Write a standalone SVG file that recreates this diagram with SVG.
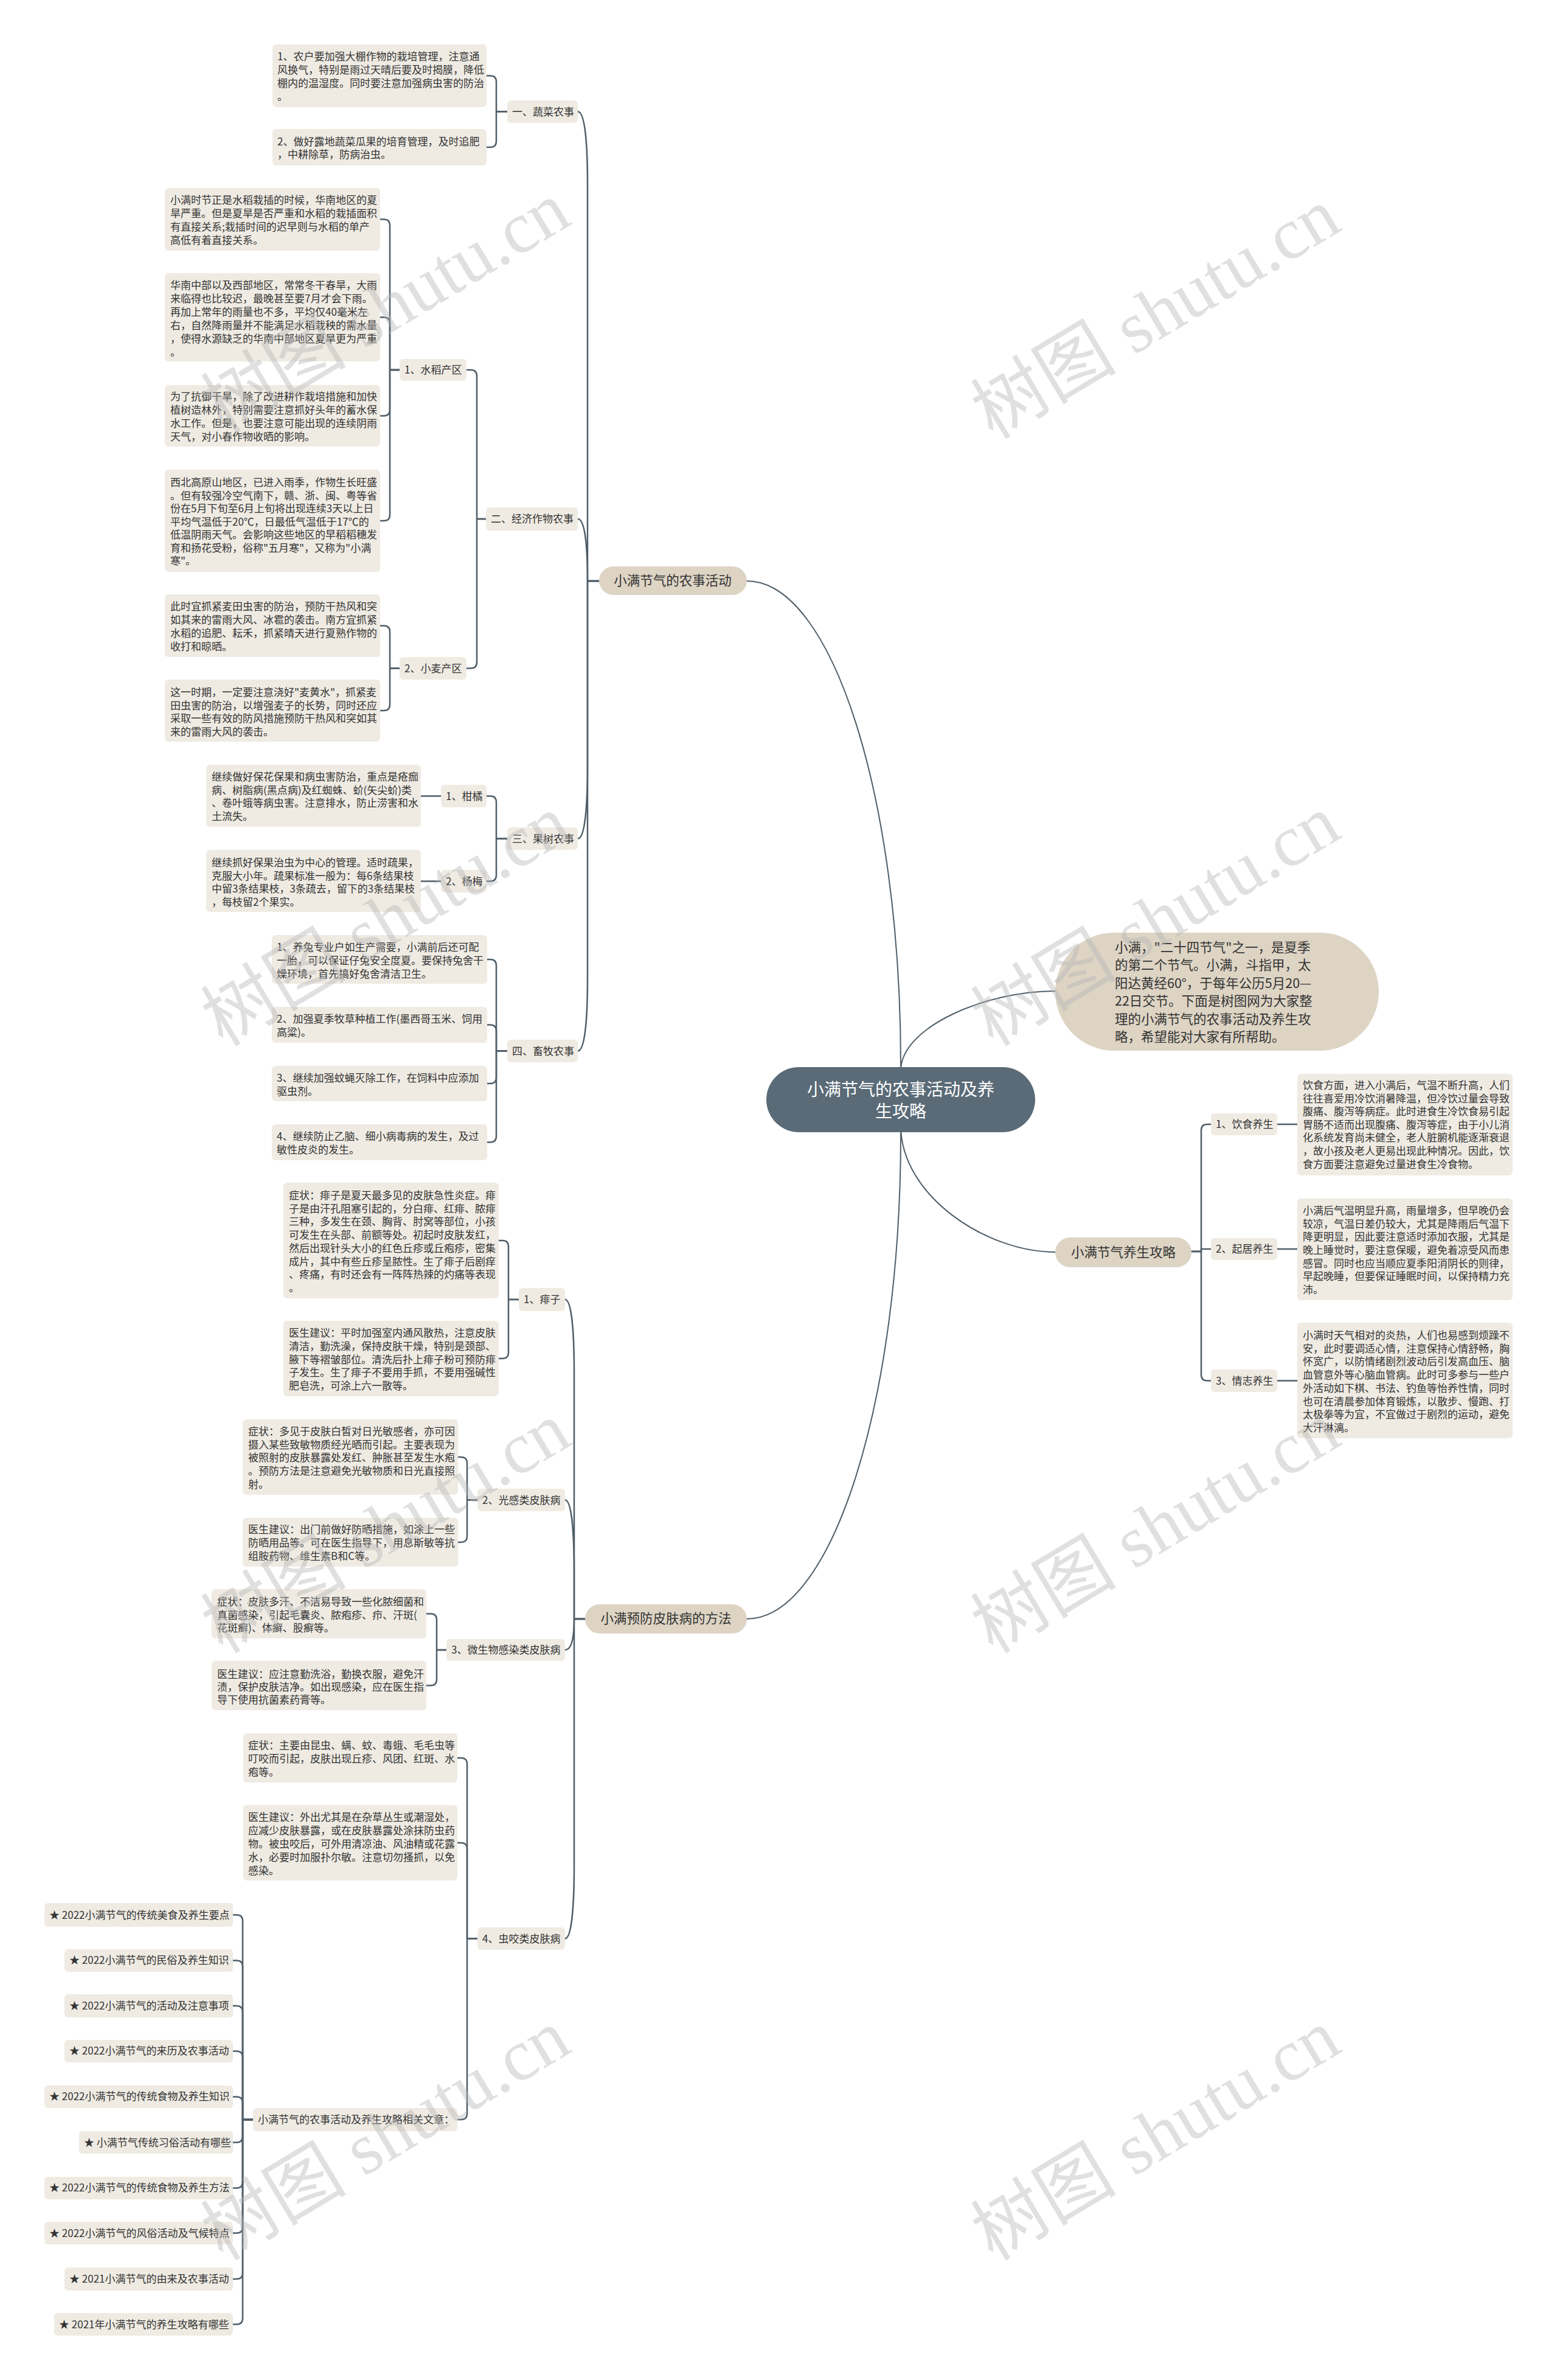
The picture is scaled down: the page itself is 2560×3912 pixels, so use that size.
<svg xmlns="http://www.w3.org/2000/svg" width="2560" height="3912" viewBox="0 0 2560 3912">
<style>
.bg{fill:#ffffff}
.lf{fill:#efebe3}
.b1{fill:#ddd4c4}
.ct{fill:#5a6b77}
.t{font-family:"Noto Sans CJK SC","Noto Sans",sans-serif;font-size:17px;fill:#333333}
.t1{font-family:"Noto Sans CJK SC","Noto Sans",sans-serif;font-size:21.5px;fill:#333333}
.tc{font-family:"Noto Sans CJK SC","Noto Sans",sans-serif;font-size:28px;fill:#ffffff;text-anchor:middle}
.c{fill:none;stroke:#4f5e69;stroke-width:2.5;stroke-linecap:round;stroke-linejoin:round}
.cm{fill:none;stroke:#4f5e69;stroke-width:2}
.wm{font-family:"Liberation Serif","Noto Sans CJK SC",serif;font-size:120px;fill:#b5b5b5;fill-opacity:0.42;text-anchor:middle}
</style>
<rect class="bg" x="0" y="0" width="2560" height="3912"/>

<g id="connectors">
  <path class="cm" d="M1481 1807 L1481 1750 C1481 1311 1368 955 1228 955"/>
  <path class="cm" d="M1481 1807 L1481 1865 C1481 2304 1368 2661 1228 2661"/>
  <path class="cm" d="M1481 1807 L1481 1760 C1481 1688 1621 1629 1735 1629"/>
  <path class="cm" d="M1481 1807 L1481 1850 C1481 1965 1621 2058 1735 2058"/>
  <path class="c" d="M985 955 H966 V303 C966 237 962 183.5 950 183.5"/>
  <path class="c" d="M985 955 H966 C966 899 962 853 950 853"/>
  <path class="c" d="M985 955 H966 V1258 C966 1324 962 1378.5 950 1378.5"/>
  <path class="c" d="M985 955 H966 V1607 C966 1673 962 1727.5 950 1727.5"/>
  <path class="c" d="M962 2661 H944 V2256 C944 2190 940 2136 929 2136"/>
  <path class="c" d="M962 2661 H944 V2585 C944 2519 940 2465.5 929 2465.5"/>
  <path class="c" d="M962 2661 H944 C944 2690 940 2712 929 2712"/>
  <path class="c" d="M962 2661 H944 V3066 C944 3132 940 3186.5 929 3186.5"/>
  <path class="c" d="M834 183.5 H816 V134.5 Q816 124.5 806 124.5 H800"/>
  <path class="c" d="M834 183.5 H816 V232 Q816 242 806 242 H800"/>
  <path class="c" d="M799 853 H784 V618 Q784 608 774 608 H767"/>
  <path class="c" d="M799 853 H784 V1088.5 Q784 1098.5 774 1098.5 H767"/>
  <path class="c" d="M657 608 H641 V370.5 Q641 360.5 631 360.5 H625"/>
  <path class="c" d="M657 608 H641 V531.5 Q641 521.5 631 521.5 H625"/>
  <path class="c" d="M657 608 H641 V673.5 Q641 683.5 631 683.5 H625"/>
  <path class="c" d="M657 608 H641 V846 Q641 856 631 856 H625"/>
  <path class="c" d="M657 1098.5 H641 V1038.5 Q641 1028.5 631 1028.5 H625"/>
  <path class="c" d="M657 1098.5 H641 V1158 Q641 1168 631 1168 H625"/>
  <path class="c" d="M834 1378.5 H816 V1318.5 Q816 1308.5 806 1308.5 H800"/>
  <path class="c" d="M834 1378.5 H816 V1438.5 Q816 1448.5 806 1448.5 H800"/>
  <path class="c" d="M725 1308.5 H692"/>
  <path class="c" d="M725 1448.5 H692"/>
  <path class="c" d="M834 1727.5 H816 V1587 Q816 1577 806 1577 H801"/>
  <path class="c" d="M834 1727.5 H816 V1694.5 Q816 1684.5 806 1684.5 H801"/>
  <path class="c" d="M834 1727.5 H816 V1771 Q816 1781 806 1781 H801"/>
  <path class="c" d="M834 1727.5 H816 V1867.5 Q816 1877.5 806 1877.5 H801"/>
  <path class="c" d="M853 2136 H836 V2049 Q836 2039 826 2039 H820"/>
  <path class="c" d="M853 2136 H836 V2223 Q836 2233 826 2233 H820"/>
  <path class="c" d="M785 2465.5 H768 V2405 Q768 2395 758 2395 H753"/>
  <path class="c" d="M785 2465.5 H768 V2525 Q768 2535 758 2535 H753"/>
  <path class="c" d="M734 2712 H718 V2662.5 Q718 2652.5 708 2652.5 H701"/>
  <path class="c" d="M734 2712 H718 V2760.5 Q718 2770.5 708 2770.5 H701"/>
  <path class="c" d="M785 3186.5 H768 V2899.5 Q768 2889.5 758 2889.5 H752"/>
  <path class="c" d="M785 3186.5 H768 V3039 Q768 3029 758 3029 H752"/>
  <path class="c" d="M785 3186.5 H768 V3474 Q768 3484 758 3484 H752"/>
  <path class="c" d="M416 3484 H399 V3157.5 Q399 3147.5 389 3147.5 H383"/>
  <path class="c" d="M416 3484 H399 V3232.5 Q399 3222.5 389 3222.5 H383"/>
  <path class="c" d="M416 3484 H399 V3307 Q399 3297 389 3297 H383"/>
  <path class="c" d="M416 3484 H399 V3381.5 Q399 3371.5 389 3371.5 H383"/>
  <path class="c" d="M416 3484 H399 V3456.5 Q399 3446.5 389 3446.5 H383"/>
  <path class="c" d="M416 3484 H399 V3511.5 Q399 3521.5 389 3521.5 H383"/>
  <path class="c" d="M416 3484 H399 V3586.5 Q399 3596.5 389 3596.5 H383"/>
  <path class="c" d="M416 3484 H399 V3660.5 Q399 3670.5 389 3670.5 H383"/>
  <path class="c" d="M416 3484 H399 V3736 Q399 3746 389 3746 H383"/>
  <path class="c" d="M416 3484 H399 V3810.5 Q399 3820.5 389 3820.5 H383"/>
  <path class="c" d="M1959 2057 H1975 V1858 Q1975 1848 1985 1848 H1991"/>
  <path class="c" d="M1959 2057 H1975 V2053 H1991"/>
  <path class="c" d="M1959 2057 H1975 V2259.5 Q1975 2269.5 1985 2269.5 H1991"/>
  <path class="c" d="M2100 1848 H2133"/>
  <path class="c" d="M2100 2053 H2133"/>
  <path class="c" d="M2100 2269.5 H2133"/>
</g>

<g id="center">
  <rect class="ct" x="1260" y="1754" width="442" height="107" rx="53.5"/>
  <text class="tc" x="1481" y="1801">小满节气的农事活动及养</text>
  <text class="tc" x="1481" y="1837">生攻略</text>
</g>

<g id="intro">
  <rect class="b1" x="1735" y="1533" width="532" height="194" rx="97"/>
  <text class="t1" x="1833" y="1565">小满，"二十四节气"之一，是夏季</text>
  <text class="t1" x="1833" y="1594">的第二个节气。小满，斗指甲，太</text>
  <text class="t1" x="1833" y="1624">阳达黄经60°，于每年公历5月20—</text>
  <text class="t1" x="1833" y="1653">22日交节。下面是树图网为大家整</text>
  <text class="t1" x="1833" y="1683">理的小满节气的农事活动及养生攻</text>
  <text class="t1" x="1833" y="1712">略，希望能对大家有所帮助。</text>
</g>

<g id="b-farm">
  <rect class="b1" x="985" y="931" width="243" height="47" rx="23.5"/>
  <text class="t1" x="1106" y="962" text-anchor="middle">小满节气的农事活动</text>
</g>
<g id="b-skin">
  <rect class="b1" x="962" y="2637" width="266" height="48" rx="24"/>
  <text class="t1" x="1095" y="2668" text-anchor="middle">小满预防皮肤病的方法</text>
</g>
<g id="b-health">
  <rect class="b1" x="1735" y="2034" width="224" height="49" rx="24.5"/>
  <text class="t1" x="1847" y="2066" text-anchor="middle">小满节气养生攻略</text>
</g>

<g id="n-veg"><rect class="lf" x="834" y="165" width="116" height="37" rx="6"/><text class="t" x="842" y="190">一、蔬菜农事</text></g>
<g id="n-eco"><rect class="lf" x="799" y="834" width="151" height="38" rx="6"/><text class="t" x="807" y="859">二、经济作物农事</text></g>
<g id="n-fruit"><rect class="lf" x="834" y="1360" width="116" height="37" rx="6"/><text class="t" x="842" y="1385">三、果树农事</text></g>
<g id="n-live"><rect class="lf" x="834" y="1709" width="116" height="37" rx="6"/><text class="t" x="842" y="1734">四、畜牧农事</text></g>
<g id="n-rice"><rect class="lf" x="657" y="590" width="110" height="36" rx="6"/><text class="t" x="665" y="614">1、水稻产区</text></g>
<g id="n-wheat"><rect class="lf" x="657" y="1080" width="110" height="37" rx="6"/><text class="t" x="665" y="1105">2、小麦产区</text></g>
<g id="n-orange"><rect class="lf" x="725" y="1290" width="75" height="37" rx="6"/><text class="t" x="733" y="1315">1、柑橘</text></g>
<g id="n-bayberry"><rect class="lf" x="725" y="1430" width="75" height="37" rx="6"/><text class="t" x="733" y="1455">2、杨梅</text></g>
<g id="n-prickly"><rect class="lf" x="853" y="2117" width="76" height="38" rx="6"/><text class="t" x="861" y="2142">1、痱子</text></g>
<g id="n-photo"><rect class="lf" x="785" y="2447" width="144" height="37" rx="6"/><text class="t" x="793" y="2472">2、光感类皮肤病</text></g>
<g id="n-micro"><rect class="lf" x="734" y="2694" width="195" height="36" rx="6"/><text class="t" x="742" y="2718">3、微生物感染类皮肤病</text></g>
<g id="n-insect"><rect class="lf" x="785" y="3168" width="144" height="37" rx="6"/><text class="t" x="793" y="3193">4、虫咬类皮肤病</text></g>
<g id="n-diet"><rect class="lf" x="1991" y="1830" width="109" height="36" rx="6"/><text class="t" x="1999" y="1854">1、饮食养生</text></g>
<g id="n-life"><rect class="lf" x="1991" y="2035" width="109" height="36" rx="6"/><text class="t" x="1999" y="2059">2、起居养生</text></g>
<g id="n-mood"><rect class="lf" x="1991" y="2251" width="109" height="37" rx="6"/><text class="t" x="1999" y="2276">3、情志养生</text></g>
<g id="n-related"><rect class="lf" x="416" y="3465" width="336" height="38" rx="6"/><text class="t" x="424" y="3490">小满节气的农事活动及养生攻略相关文章：</text></g>

<g id="n-a1"><rect class="lf" x="448" y="73" width="352" height="103" rx="6"/>
<text class="t" x="456" y="99">1、农户要加强大棚作物的栽培管理，注意通</text>
<text class="t" x="456" y="121">风换气，特别是雨过天晴后要及时揭膜，降低</text>
<text class="t" x="456" y="143">棚内的温湿度。同时要注意加强病虫害的防治</text>
<text class="t" x="456" y="165">。</text></g>
<g id="n-a2"><rect class="lf" x="448" y="212" width="352" height="60" rx="6"/>
<text class="t" x="456" y="239">2、做好露地蔬菜瓜果的培育管理，及时追肥</text>
<text class="t" x="456" y="260">，中耕除草，防病治虫。</text></g>

<g id="n-r1"><rect class="lf" x="271" y="309" width="354" height="103" rx="6"/>
<text class="t" x="280" y="335">小满时节正是水稻栽插的时候，华南地区的夏</text>
<text class="t" x="280" y="357">旱严重。但是夏旱是否严重和水稻的栽插面积</text>
<text class="t" x="280" y="379">有直接关系;栽插时间的迟早则与水稻的单产</text>
<text class="t" x="280" y="401">高低有着直接关系。</text></g>
<g id="n-r2"><rect class="lf" x="271" y="449" width="354" height="145" rx="6"/>
<text class="t" x="280" y="475">华南中部以及西部地区，常常冬干春旱，大雨</text>
<text class="t" x="280" y="497">来临得也比较迟，最晚甚至要7月才会下雨。</text>
<text class="t" x="280" y="519">再加上常年的雨量也不多，平均仅40毫米左</text>
<text class="t" x="280" y="541">右，自然降雨量并不能满足水稻栽秧的需水量</text>
<text class="t" x="280" y="563">，使得水源缺乏的华南中部地区夏旱更为严重</text>
<text class="t" x="280" y="585">。</text></g>
<g id="n-r3"><rect class="lf" x="271" y="633" width="354" height="101" rx="6"/>
<text class="t" x="280" y="658">为了抗御干旱，除了改进耕作栽培措施和加快</text>
<text class="t" x="280" y="680">植树造林外，特别需要注意抓好头年的蓄水保</text>
<text class="t" x="280" y="702">水工作。但是，也要注意可能出现的连续阴雨</text>
<text class="t" x="280" y="724">天气，对小春作物收晒的影响。</text></g>
<g id="n-r4"><rect class="lf" x="271" y="772" width="354" height="168" rx="6"/>
<text class="t" x="280" y="799">西北高原山地区，已进入雨季，作物生长旺盛</text>
<text class="t" x="280" y="820.5">。但有较强冷空气南下，赣、浙、闽、粤等省</text>
<text class="t" x="280" y="842">份在5月下旬至6月上旬将出现连续3天以上日</text>
<text class="t" x="280" y="863.5">平均气温低于20℃，日最低气温低于17℃的</text>
<text class="t" x="280" y="885">低温阴雨天气。会影响这些地区的早稻稻穗发</text>
<text class="t" x="280" y="906.5">育和扬花受粉，俗称"五月寒"，又称为"小满</text>
<text class="t" x="280" y="928">寒"。</text></g>

<g id="n-w1"><rect class="lf" x="271" y="977" width="354" height="103" rx="6"/>
<text class="t" x="280" y="1003">此时宜抓紧麦田虫害的防治，预防干热风和突</text>
<text class="t" x="280" y="1025">如其来的雷雨大风、冰雹的袭击。南方宜抓紧</text>
<text class="t" x="280" y="1047">水稻的追肥、耘禾，抓紧晴天进行夏熟作物的</text>
<text class="t" x="280" y="1069">收打和晾晒。</text></g>
<g id="n-w2"><rect class="lf" x="271" y="1117" width="354" height="102" rx="6"/>
<text class="t" x="280" y="1144">这一时期，一定要注意浇好"麦黄水"，抓紧麦</text>
<text class="t" x="280" y="1165.5">田虫害的防治，以增强麦子的长势，同时还应</text>
<text class="t" x="280" y="1187">采取一些有效的防风措施预防干热风和突如其</text>
<text class="t" x="280" y="1208.5">来的雷雨大风的袭击。</text></g>

<g id="n-f1"><rect class="lf" x="339" y="1257" width="353" height="102" rx="6"/>
<text class="t" x="348" y="1283">继续做好保花保果和病虫害防治，重点是疮痂</text>
<text class="t" x="348" y="1304.5">病、树脂病(黑点病)及红蜘蛛、蚧(矢尖蚧)类</text>
<text class="t" x="348" y="1326">、卷叶蛾等病虫害。注意排水，防止涝害和水</text>
<text class="t" x="348" y="1347.5">土流失。</text></g>
<g id="n-f2"><rect class="lf" x="339" y="1397" width="353" height="102" rx="6"/>
<text class="t" x="348" y="1424">继续抓好保果治虫为中心的管理。适时疏果，</text>
<text class="t" x="348" y="1445.5">克服大小年。疏果标准一般为：每6条结果枝</text>
<text class="t" x="348" y="1467">中留3条结果枝，3条疏去，留下的3条结果枝</text>
<text class="t" x="348" y="1488.5">，每枝留2个果实。</text></g>

<g id="n-l1"><rect class="lf" x="447" y="1537" width="354" height="80" rx="6"/>
<text class="t" x="455" y="1563">1、养兔专业户如生产需要，小满前后还可配</text>
<text class="t" x="455" y="1585">一胎，可以保证仔兔安全度夏。要保持兔舍干</text>
<text class="t" x="455" y="1607">燥环境，首先搞好兔舍清洁卫生。</text></g>
<g id="n-l2"><rect class="lf" x="447" y="1655" width="354" height="59" rx="6"/>
<text class="t" x="455" y="1681">2、加强夏季牧草种植工作(墨西哥玉米、饲用</text>
<text class="t" x="455" y="1703">高粱)。</text></g>
<g id="n-l3"><rect class="lf" x="447" y="1752" width="354" height="58" rx="6"/>
<text class="t" x="455" y="1778">3、继续加强蚊蝇灭除工作，在饲料中应添加</text>
<text class="t" x="455" y="1800">驱虫剂。</text></g>
<g id="n-l4"><rect class="lf" x="447" y="1848" width="354" height="59" rx="6"/>
<text class="t" x="455" y="1874">4、继续防止乙脑、细小病毒病的发生，及过</text>
<text class="t" x="455" y="1896">敏性皮炎的发生。</text></g>

<g id="n-p1"><rect class="lf" x="466" y="1944" width="354" height="190" rx="6"/>
<text class="t" x="475" y="1971">症状：痱子是夏天最多见的皮肤急性炎症。痱</text>
<text class="t" x="475" y="1992.7">子是由汗孔阻塞引起的，分白痱、红痱、脓痱</text>
<text class="t" x="475" y="2014.4">三种，多发生在颈、胸背、肘窝等部位，小孩</text>
<text class="t" x="475" y="2036.1">可发生在头部、前额等处。初起时皮肤发红，</text>
<text class="t" x="475" y="2057.8">然后出现针头大小的红色丘疹或丘疱疹，密集</text>
<text class="t" x="475" y="2079.5">成片，其中有些丘疹呈脓性。生了痱子后剧痒</text>
<text class="t" x="475" y="2101.2">、疼痛，有时还会有一阵阵热辣的灼痛等表现</text>
<text class="t" x="475" y="2123">。</text></g>
<g id="n-p2"><rect class="lf" x="466" y="2171" width="354" height="124" rx="6"/>
<text class="t" x="475" y="2197">医生建议：平时加强室内通风散热，注意皮肤</text>
<text class="t" x="475" y="2219">清洁，勤洗澡，保持皮肤干燥，特别是颈部、</text>
<text class="t" x="475" y="2240.5">腋下等褶皱部位。清洗后扑上痱子粉可预防痱</text>
<text class="t" x="475" y="2262">子发生。生了痱子不要用手抓，不要用强碱性</text>
<text class="t" x="475" y="2284">肥皂洗，可涂上六一散等。</text></g>

<g id="n-g1"><rect class="lf" x="399" y="2333" width="354" height="124" rx="6"/>
<text class="t" x="408" y="2359">症状：多见于皮肤白皙对日光敏感者，亦可因</text>
<text class="t" x="408" y="2380.7">摄入某些致敏物质经光晒而引起。主要表现为</text>
<text class="t" x="408" y="2402.4">被照射的皮肤暴露处发红、肿胀甚至发生水疱</text>
<text class="t" x="408" y="2424">。预防方法是注意避免光敏物质和日光直接照</text>
<text class="t" x="408" y="2446">射。</text></g>
<g id="n-g2"><rect class="lf" x="399" y="2495" width="354" height="80" rx="6"/>
<text class="t" x="408" y="2520">医生建议：出门前做好防晒措施，如涂上一些</text>
<text class="t" x="408" y="2542">防晒用品等。可在医生指导下，用息斯敏等抗</text>
<text class="t" x="408" y="2564">组胺药物、维生素B和C等。</text></g>

<g id="n-m1"><rect class="lf" x="348" y="2612" width="353" height="81" rx="6"/>
<text class="t" x="357" y="2639">症状：皮肤多汗、不洁易导致一些化脓细菌和</text>
<text class="t" x="357" y="2660.5">真菌感染，引起毛囊炎、脓疱疹、疖、汗斑(</text>
<text class="t" x="357" y="2682">花斑癣)、体癣、股癣等。</text></g>
<g id="n-m2"><rect class="lf" x="348" y="2730" width="353" height="81" rx="6"/>
<text class="t" x="357" y="2758">医生建议：应注意勤洗浴，勤换衣服，避免汗</text>
<text class="t" x="357" y="2779">渍，保护皮肤洁净。如出现感染，应在医生指</text>
<text class="t" x="357" y="2800">导下使用抗菌素药膏等。</text></g>

<g id="n-i1"><rect class="lf" x="400" y="2849" width="352" height="81" rx="6"/>
<text class="t" x="408" y="2875">症状：主要由昆虫、螨、蚊、毒蛾、毛毛虫等</text>
<text class="t" x="408" y="2897">叮咬而引起，皮肤出现丘疹、风团、红斑、水</text>
<text class="t" x="408" y="2919">疱等。</text></g>
<g id="n-i2"><rect class="lf" x="400" y="2967" width="352" height="124" rx="6"/>
<text class="t" x="408" y="2993">医生建议：外出尤其是在杂草丛生或潮湿处，</text>
<text class="t" x="408" y="3015">应减少皮肤暴露，或在皮肤暴露处涂抹防虫药</text>
<text class="t" x="408" y="3037">物。被虫咬后，可外用清凉油、风油精或花露</text>
<text class="t" x="408" y="3059">水，必要时加服扑尔敏。注意切勿搔抓，以免</text>
<text class="t" x="408" y="3081">感染。</text></g>

<g id="n-d1"><rect class="lf" x="2133" y="1765" width="354" height="167" rx="6"/>
<text class="t" x="2142" y="1790">饮食方面，进入小满后，气温不断升高，人们</text>
<text class="t" x="2142" y="1811.6">往往喜爱用冷饮消暑降温，但冷饮过量会导致</text>
<text class="t" x="2142" y="1833.2">腹痛、腹泻等病症。此时进食生冷饮食易引起</text>
<text class="t" x="2142" y="1854.8">胃肠不适而出现腹痛、腹泻等症，由于小儿消</text>
<text class="t" x="2142" y="1876.4">化系统发育尚未健全，老人脏腑机能逐渐衰退</text>
<text class="t" x="2142" y="1898">，故小孩及老人更易出现此种情况。因此，饮</text>
<text class="t" x="2142" y="1919.6">食方面要注意避免过量进食生冷食物。</text></g>
<g id="n-d2"><rect class="lf" x="2133" y="1970" width="354" height="167" rx="6"/>
<text class="t" x="2142" y="1996">小满后气温明显升高，雨量增多，但早晚仍会</text>
<text class="t" x="2142" y="2017.7">较凉，气温日差仍较大，尤其是降雨后气温下</text>
<text class="t" x="2142" y="2039.3">降更明显，因此要注意适时添加衣服，尤其是</text>
<text class="t" x="2142" y="2061">晚上睡觉时，要注意保暖，避免着凉受风而患</text>
<text class="t" x="2142" y="2082.7">感冒。同时也应当顺应夏季阳消阴长的则律，</text>
<text class="t" x="2142" y="2104.3">早起晚睡，但要保证睡眠时间，以保持精力充</text>
<text class="t" x="2142" y="2126">沛。</text></g>
<g id="n-d3"><rect class="lf" x="2133" y="2174" width="354" height="190" rx="6"/>
<text class="t" x="2142" y="2201">小满时天气相对的炎热，人们也易感到烦躁不</text>
<text class="t" x="2142" y="2222.7">安，此时要调适心情，注意保持心情舒畅，胸</text>
<text class="t" x="2142" y="2244.4">怀宽广，以防情绪剧烈波动后引发高血压、脑</text>
<text class="t" x="2142" y="2266">血管意外等心脑血管病。此时可多参与一些户</text>
<text class="t" x="2142" y="2287.8">外活动如下棋、书法、钓鱼等怡养性情，同时</text>
<text class="t" x="2142" y="2309.5">也可在清晨参加体育锻炼，以散步、慢跑、打</text>
<text class="t" x="2142" y="2331.2">太极拳等为宜，不宜做过于剧烈的运动，避免</text>
<text class="t" x="2142" y="2353">大汗淋漓。</text></g>

<g id="n-s1"><rect class="lf" x="73" y="3128" width="310" height="39" rx="6"/><text class="t" x="81" y="3154">★ 2022小满节气的传统美食及养生要点</text></g>
<g id="n-s2"><rect class="lf" x="106" y="3204" width="277" height="37" rx="6"/><text class="t" x="114" y="3228">★ 2022小满节气的民俗及养生知识</text></g>
<g id="n-s3"><rect class="lf" x="106" y="3278" width="277" height="38" rx="6"/><text class="t" x="114" y="3303">★ 2022小满节气的活动及注意事项</text></g>
<g id="n-s4"><rect class="lf" x="106" y="3353" width="277" height="37" rx="6"/><text class="t" x="114" y="3377">★ 2022小满节气的来历及农事活动</text></g>
<g id="n-s5"><rect class="lf" x="73" y="3428" width="310" height="37" rx="6"/><text class="t" x="81" y="3452">★ 2022小满节气的传统食物及养生知识</text></g>
<g id="n-s6"><rect class="lf" x="130" y="3503" width="253" height="37" rx="6"/><text class="t" x="138" y="3528">★ 小满节气传统习俗活动有哪些</text></g>
<g id="n-s7"><rect class="lf" x="73" y="3578" width="310" height="37" rx="6"/><text class="t" x="81" y="3602">★ 2022小满节气的传统食物及养生方法</text></g>
<g id="n-s8"><rect class="lf" x="73" y="3652" width="310" height="37" rx="6"/><text class="t" x="81" y="3677">★ 2022小满节气的风俗活动及气候特点</text></g>
<g id="n-s9"><rect class="lf" x="106" y="3727" width="277" height="38" rx="6"/><text class="t" x="114" y="3752">★ 2021小满节气的由来及农事活动</text></g>
<g id="n-s10"><rect class="lf" x="89" y="3802" width="294" height="37" rx="6"/><text class="t" x="97" y="3827">★ 2021年小满节气的养生攻略有哪些</text></g>

<g id="watermarks">
  <text class="wm" transform="translate(655 540) rotate(-31)">树图 shutu.cn</text>
  <text class="wm" transform="translate(1921 550) rotate(-31)">树图 shutu.cn</text>
  <text class="wm" transform="translate(655 1548) rotate(-31)">树图 shutu.cn</text>
  <text class="wm" transform="translate(1921 1548) rotate(-31)">树图 shutu.cn</text>
  <text class="wm" transform="translate(655 2546) rotate(-31)">树图 shutu.cn</text>
  <text class="wm" transform="translate(1921 2546) rotate(-31)">树图 shutu.cn</text>
  <text class="wm" transform="translate(655 3544) rotate(-31)">树图 shutu.cn</text>
  <text class="wm" transform="translate(1921 3544) rotate(-31)">树图 shutu.cn</text>
</g>
</svg>
